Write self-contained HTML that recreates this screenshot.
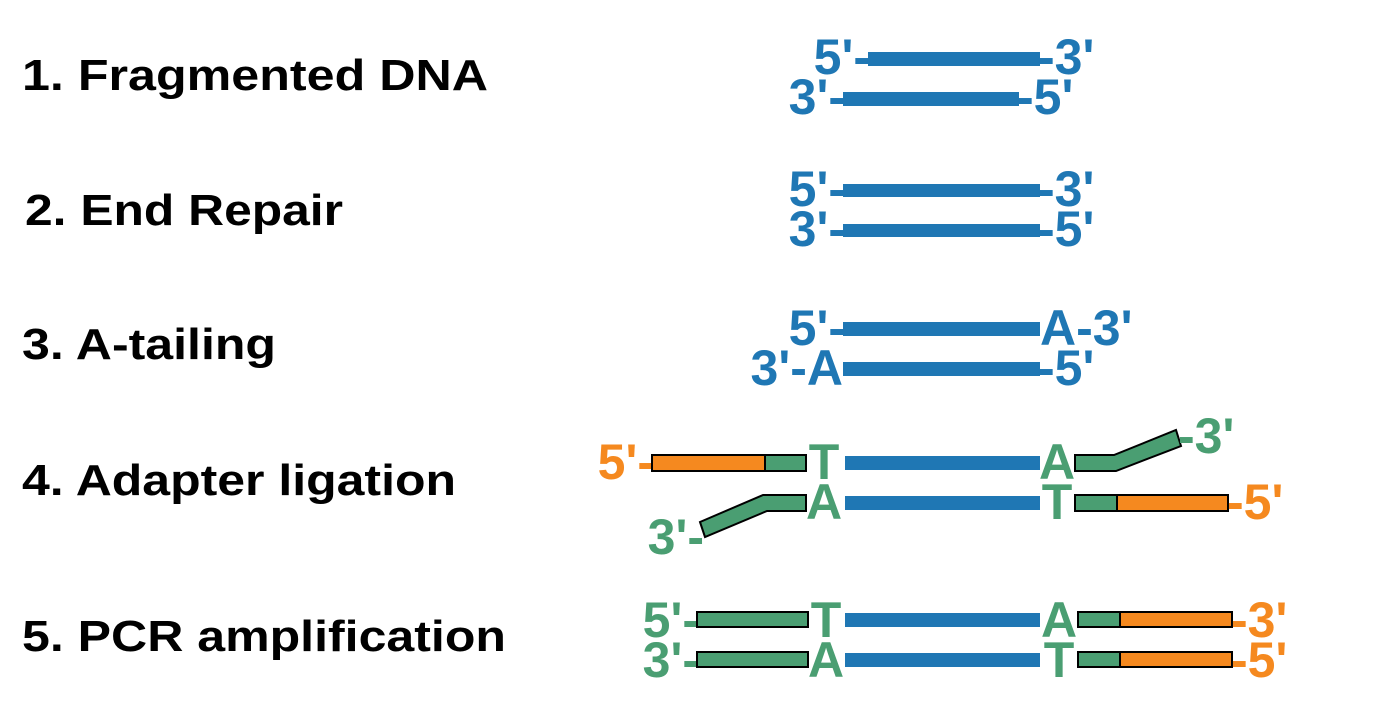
<!DOCTYPE html>
<html><head><meta charset="utf-8"><style>
html,body{margin:0;padding:0;background:#fff;}
svg{display:block;}
text{font-family:"Liberation Sans",Arial,sans-serif;font-weight:bold;}
.lab{font-size:44px;fill:#000;}
.b{font-size:50px;fill:#1f77b4;}
.g{font-size:50px;fill:#4a9e72;}
.o{font-size:50px;fill:#f5891f;}
</style></head><body>
<svg width="1375" height="706" viewBox="0 0 1375 706">
<text class="lab" x="22" y="90" textLength="466" lengthAdjust="spacingAndGlyphs">1. Fragmented DNA</text>
<text class="lab" x="25" y="225" textLength="318" lengthAdjust="spacingAndGlyphs">2. End Repair</text>
<text class="lab" x="22" y="359" textLength="254" lengthAdjust="spacingAndGlyphs">3. A-tailing</text>
<text class="lab" x="22" y="495" textLength="434" lengthAdjust="spacingAndGlyphs">4. Adapter ligation</text>
<text class="lab" x="22" y="651" textLength="484" lengthAdjust="spacingAndGlyphs">5. PCR amplification</text>

<g>
<text class="b" x="870" y="74" text-anchor="end">5'-</text>
<rect x="868" y="52" width="172" height="14" fill="#1f77b4"/>
<text class="b" x="1038" y="74">-3'</text>
<text class="b" x="845" y="114" text-anchor="end">3'-</text>
<rect x="843" y="92" width="176" height="14" fill="#1f77b4"/>
<text class="b" x="1017" y="114">-5'</text>
</g>

<g>
<text class="b" x="845" y="206" text-anchor="end">5'-</text>
<rect x="843" y="184" width="197" height="13" fill="#1f77b4"/>
<text class="b" x="1038" y="206">-3'</text>
<text class="b" x="845" y="246" text-anchor="end">3'-</text>
<rect x="843" y="224" width="197" height="13" fill="#1f77b4"/>
<text class="b" x="1038" y="246">-5'</text>
</g>

<g>
<text class="b" x="845" y="345" text-anchor="end">5'-</text>
<rect x="843" y="322" width="197" height="14" fill="#1f77b4"/>
<text class="b" x="1040" y="345">A-3'</text>
<text class="b" x="843" y="385" text-anchor="end">3'-A</text>
<rect x="843" y="362" width="197" height="14" fill="#1f77b4"/>
<text class="b" x="1038" y="385">-5'</text>
</g>

<g>
<text class="o" x="654" y="479" text-anchor="end">5'-</text>
<rect x="652" y="455" width="113" height="16" fill="#f5891f" stroke="#000" stroke-width="2"/>
<rect x="765" y="455" width="41" height="16" fill="#4a9e72" stroke="#000" stroke-width="2"/>
<text class="g" x="824" y="479" text-anchor="middle">T</text>
<rect x="845" y="456" width="195" height="14" fill="#1f77b4"/>
<text class="g" x="1057" y="479" text-anchor="middle">A</text>
<polygon points="1075,455 1114,455 1176,430 1181,446 1116,471 1075,471" fill="#4a9e72" stroke="#000" stroke-width="2"/>
<text class="g" x="1178" y="453">-3'</text>

<text class="g" x="704" y="554" text-anchor="end">3'-</text>
<polygon points="700,522 763,495 806,495 806,511 767,511 705,537" fill="#4a9e72" stroke="#000" stroke-width="2"/>
<text class="g" x="824" y="519" text-anchor="middle">A</text>
<rect x="845" y="496" width="195" height="14" fill="#1f77b4"/>
<text class="g" x="1057" y="519" text-anchor="middle">T</text>
<rect x="1075" y="495" width="42" height="16" fill="#4a9e72" stroke="#000" stroke-width="2"/>
<rect x="1117" y="495" width="111" height="16" fill="#f5891f" stroke="#000" stroke-width="2"/>
<text class="o" x="1227" y="519">-5'</text>
</g>

<g>
<text class="g" x="699" y="637" text-anchor="end">5'-</text>
<rect x="697" y="612" width="111" height="15" fill="#4a9e72" stroke="#000" stroke-width="2"/>
<text class="g" x="826" y="637" text-anchor="middle">T</text>
<rect x="845" y="613" width="195" height="14" fill="#1f77b4"/>
<text class="g" x="1059" y="637" text-anchor="middle">A</text>
<rect x="1078" y="612" width="42" height="15" fill="#4a9e72" stroke="#000" stroke-width="2"/>
<rect x="1120" y="612" width="112" height="15" fill="#f5891f" stroke="#000" stroke-width="2"/>
<text class="o" x="1231" y="637">-3'</text>

<text class="g" x="699" y="677" text-anchor="end">3'-</text>
<rect x="697" y="652" width="111" height="15" fill="#4a9e72" stroke="#000" stroke-width="2"/>
<text class="g" x="826" y="677" text-anchor="middle">A</text>
<rect x="845" y="653" width="195" height="14" fill="#1f77b4"/>
<text class="g" x="1059" y="677" text-anchor="middle">T</text>
<rect x="1078" y="652" width="42" height="15" fill="#4a9e72" stroke="#000" stroke-width="2"/>
<rect x="1120" y="652" width="112" height="15" fill="#f5891f" stroke="#000" stroke-width="2"/>
<text class="o" x="1231" y="677">-5'</text>
</g>
</svg>
</body></html>
